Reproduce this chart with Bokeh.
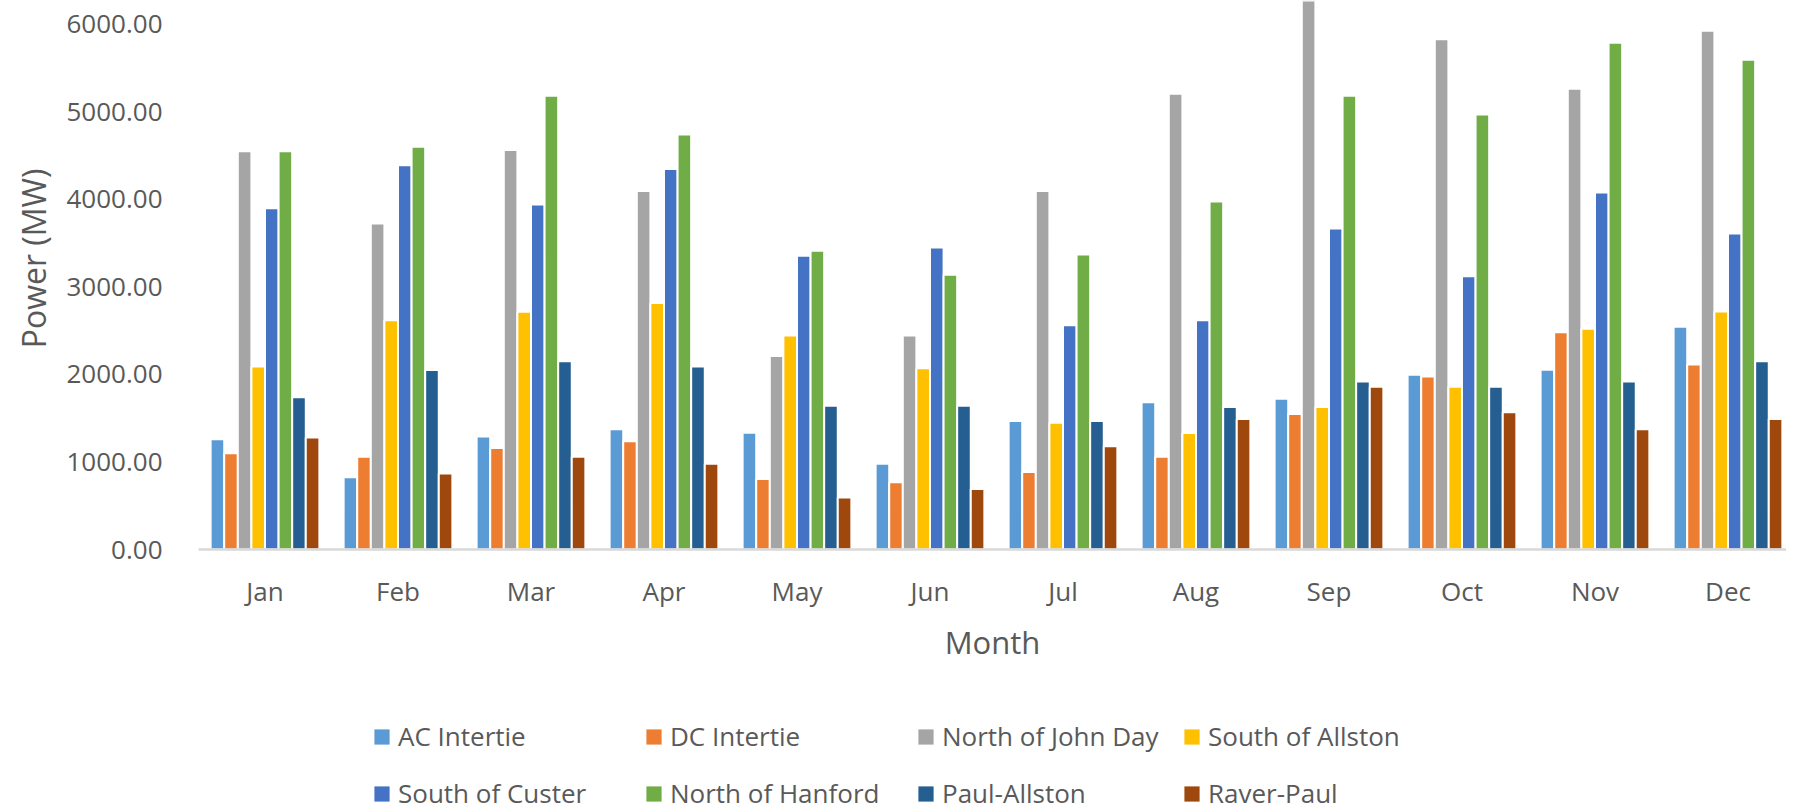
from bokeh.plotting import figure
from bokeh.models import (ColumnDataSource, Range1d, FixedTicker, NumeralTickFormatter,
                          Legend, LegendItem, Title)
from bokeh.layouts import column
from bokeh.transform import dodge
from bokeh.embed import file_html
from bokeh.resources import INLINE

months = ["Jan", "Feb", "Mar", "Apr", "May", "Jun", "Jul", "Aug", "Sep", "Oct", "Nov", "Dec"]

ac_intertie    = [1260, 825, 1290, 1373, 1335, 980, 1468, 1681, 1722, 1996, 2053, 2544]
dc_intertie    = [1100, 1060, 1160, 1236, 806, 768, 886, 1060, 1547, 1977, 2483, 2114]
north_john_day = [4550, 3725, 4565, 4095, 2210, 2445, 4095, 5207, 6400, 5830, 5264, 5926]
south_allston  = [2090, 2620, 2715, 2817, 2445, 2072, 1449, 1331, 1627, 1859, 2521, 2719]
south_custer   = [3900, 4390, 3940, 4348, 3356, 3451, 2563, 2620, 3668, 3121, 4078, 3611]
north_hanford  = [4550, 4600, 5185, 4740, 3413, 3139, 3371, 3976, 5185, 4971, 5789, 5595]
paul_allston   = [1740, 2050, 2150, 2090, 1643, 1643, 1468, 1627, 1920, 1859, 1920, 2152]
raver_paul     = [1280, 867, 1060, 980, 593, 692, 1179, 1490, 1859, 1567, 1373, 1490]

series_names = ["AC Intertie", "DC Intertie", "North of John Day", "South of Allston",
                "South of Custer", "North of Hanford", "Paul-Allston", "Raver-Paul"]
series_values = [ac_intertie, dc_intertie, north_john_day, south_allston,
                 south_custer, north_hanford, paul_allston, raver_paul]
colors = ["#5B9BD5", "#ED7D31", "#A5A5A5", "#FFC000",
          "#4472C4", "#70AD47", "#255E91", "#9E480E"]

y_ticks = [0, 1000, 2000, 3000, 4000, 5000, 6000]
y_label = "Power (MW)"
x_label = "Month"

FONT = "Open Sans"
TXT = "#595959"

idx = list(range(len(months)))
data = {"idx": idx}
for i, v in enumerate(series_values):
    data["s%d" % i] = v
source = ColumnDataSource(data)

W = 1786
H1 = 671
p = figure(width=W, height=H1, x_range=Range1d(-0.5, 11.44), y_range=Range1d(0, 6272),
           output_backend="svg", toolbar_location=None,
           min_border_left=188, min_border_right=0, min_border_top=0, min_border_bottom=122)
p.outline_line_color = None
p.grid.visible = False

pitch = 0.1022
renderers = []
for i, (name, col) in enumerate(zip(series_names, colors)):
    r = p.vbar(x=dodge("idx", (i - 3.5) * pitch), top="s%d" % i,
               width=pitch, source=source, fill_color=col, line_color="white", line_width=2)
    renderers.append(r)

xa = p.xaxis[0]
xa.ticker = FixedTicker(ticks=idx)
xa.major_label_overrides = {i: m for i, m in enumerate(months)}
xa.axis_line_color = "#D9D9D9"
xa.axis_line_width = 2.5
xa.major_tick_line_color = None
xa.minor_tick_line_color = None
xa.major_label_text_font = FONT
xa.major_label_text_font_size = "26px"
xa.major_label_text_color = TXT
xa.major_label_standoff = 17
xa.axis_label = x_label
xa.axis_label_text_font = FONT
xa.axis_label_text_font_size = "31px"
xa.axis_label_text_color = TXT
xa.axis_label_text_font_style = "normal"
xa.axis_label_standoff = 9

ya = p.yaxis[0]
ya.ticker = FixedTicker(ticks=y_ticks)
ya.formatter = NumeralTickFormatter(format="0.00")
ya.axis_line_color = None
ya.major_tick_line_color = None
ya.minor_tick_line_color = None
ya.major_label_text_font = FONT
ya.major_label_text_font_size = "26px"
ya.major_label_text_color = TXT
ya.major_label_standoff = 30

yt = Title(text=y_label, align="right", offset=168, standoff=18,
           text_font=FONT, text_font_size="32px", text_color=TXT, text_font_style="normal")
p.add_layout(yt, "left")

# legend strip below the chart
H2 = 140
q = figure(width=W, height=H2, x_range=Range1d(0, 1), y_range=Range1d(0, 1),
           output_backend="svg", toolbar_location=None,
           min_border_left=0, min_border_right=0, min_border_top=0, min_border_bottom=0)
q.axis.visible = False
q.grid.visible = False
q.outline_line_color = None
proxies = []
for i, col in enumerate(colors):
    proxies.append(q.vbar(x="idx", top="s%d" % i, width=0.1, source=source,
                          fill_color=col, line_color=None, visible=False))

legend_columns = [[0, 4], [1, 5], [2, 6], [3, 7]]
legend_x = [174, 446, 718, 984]
for ids, vx in zip(legend_columns, legend_x):
    items = [LegendItem(label=series_names[i], renderers=[proxies[i]]) for i in ids]
    lg = Legend(items=items, orientation="vertical", location=(vx, 0),
                glyph_width=19, glyph_height=19, label_standoff=7,
                spacing=21, padding=0, margin=0, border_line_color=None,
                background_fill_alpha=0, label_text_font=FONT,
                label_text_font_size="26px", label_text_color=TXT)
    q.add_layout(lg, "center")

layout = column(p, q, spacing=0)
open("out.html", "w").write(file_html(layout, INLINE))
